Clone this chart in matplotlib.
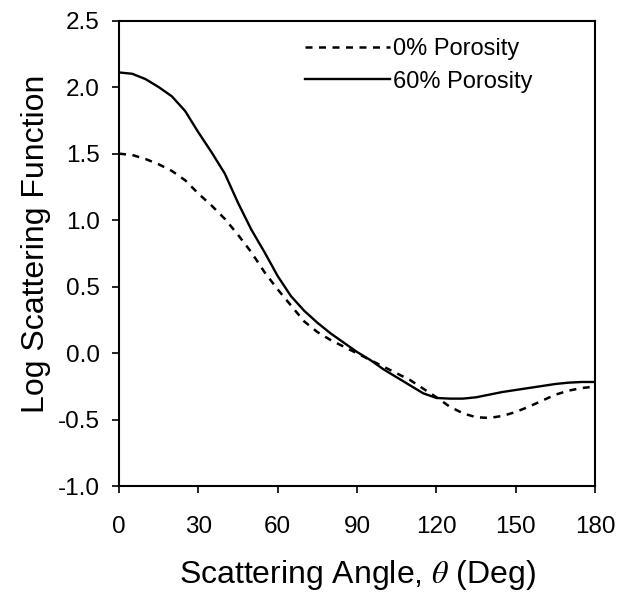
import matplotlib
matplotlib.use('Agg')
import matplotlib.pyplot as plt

plt.rcParams['font.family'] = ['Liberation Sans', 'DejaVu Sans']
plt.rcParams['mathtext.fontset'] = 'stix'

# 散射角 (度)
angle = [0, 5, 10, 15, 20, 25, 30, 35, 40, 45, 50, 55, 60, 65, 70, 75, 80, 85, 90,
         95, 100, 105, 110, 115, 120, 125, 130, 135, 140, 145, 150, 155, 160, 165,
         170, 175, 180]

# 0% 孔隙率
porosity_0 = [1.50, 1.49, 1.46, 1.42, 1.37, 1.30, 1.20, 1.11, 1.01, 0.89, 0.76, 0.61,
              0.48, 0.36, 0.24, 0.16, 0.10, 0.05, 0.00, -0.05, -0.10, -0.15, -0.20,
              -0.265, -0.33, -0.40, -0.45, -0.48, -0.485, -0.47, -0.44, -0.40, -0.355,
              -0.31, -0.28, -0.26, -0.25]

# 60% 孔隙率
porosity_60 = [2.11, 2.10, 2.06, 2.00, 1.93, 1.82, 1.66, 1.51, 1.35, 1.13, 0.93, 0.76,
               0.58, 0.43, 0.32, 0.23, 0.15, 0.08, 0.01, -0.05, -0.12, -0.18, -0.24,
               -0.30, -0.335, -0.34, -0.34, -0.33, -0.31, -0.29, -0.275, -0.26, -0.245,
               -0.23, -0.22, -0.215, -0.215]

xticks = [0, 30, 60, 90, 120, 150, 180]
yticks = [-1.0, -0.5, 0.0, 0.5, 1.0, 1.5, 2.0, 2.5]

fig = plt.figure(figsize=(6.18, 5.93), dpi=100)
ax = fig.add_axes([0.1926, 0.1796, 0.7704, 0.7858])

ax.plot(angle, porosity_0, color='black', lw=1.8, dashes=(2.8, 2.6), label='0% Porosity')
ax.plot(angle, porosity_60, color='black', lw=1.7, label='60% Porosity')

ax.set_xlim(0, 180)
ax.set_ylim(-1.0, 2.5)
ax.set_xticks(xticks)
ax.set_yticks(yticks)
ax.set_yticklabels(['%.1f' % v for v in yticks])
ax.tick_params(direction='out', length=5, width=1.2, labelsize=17.5, top=False, right=False)
ax.tick_params(axis='x', pad=16)
ax.tick_params(axis='y', pad=9)
for s in ax.spines.values():
    s.set_linewidth(1.5)

ax.set_xlabel(r'Scattering Angle, $\theta$ (Deg)', fontsize=23, labelpad=15)
ax.set_ylabel('Log Scattering Function', fontsize=23, labelpad=5, y=0.52)

ax.legend(loc='upper left', bbox_to_anchor=(305 / 618, 1 - 38 / 593),
          bbox_transform=fig.transFigure, frameon=False, fontsize=17,
          borderpad=0, borderaxespad=0, handlelength=3.6, handletextpad=0.13,
          labelspacing=0.45)

plt.savefig('out.png', dpi=100)
